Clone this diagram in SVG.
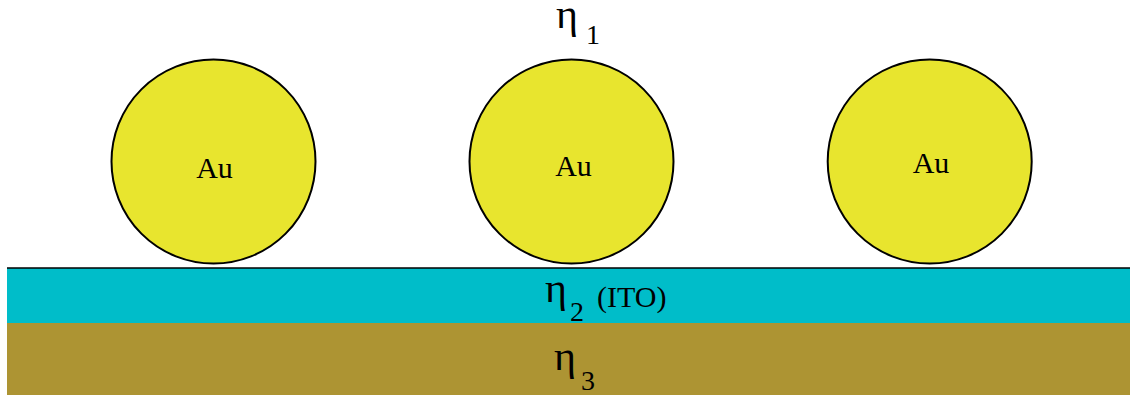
<svg xmlns="http://www.w3.org/2000/svg" width="1130" height="395" viewBox="0 0 1130 395">
<style>
.au{fill:#E8E52E;stroke:#000;stroke-width:2}
.t{font-family:"Liberation Serif",serif;fill:#000}
.eta{font-size:42px}
.sub{font-size:28px}
.ito{font-size:30px}
.lab{font-size:30px;text-anchor:middle}
</style>
<g id="layer-ito">
<rect x="7" y="268" width="1123" height="55" fill="#00BDC9"/>
<line x1="7" y1="268" x2="1130" y2="268" stroke="#000" stroke-width="1.5"/>
</g>
<g id="layer-substrate">
<rect x="7" y="323" width="1123" height="72" fill="#AD9433"/>
</g>
<g id="np1"><circle class="au" cx="213.5" cy="161.5" r="102"/><text class="t lab" x="214.5" y="178">Au</text></g>
<g id="np2"><circle class="au" cx="571.5" cy="161.5" r="102"/><text class="t lab" x="573.5" y="176">Au</text></g>
<g id="np3"><circle class="au" cx="929.7" cy="161.5" r="102"/><text class="t lab" x="931" y="173">Au</text></g>
<g id="eta1"><text class="t eta" x="556" y="28">η</text><text class="t sub" x="586" y="44">1</text></g>
<g id="eta2"><text class="t eta" x="545" y="302">η</text><text class="t sub" x="570" y="321">2</text><text class="t ito" x="597" y="307">(ITO)</text></g>
<g id="eta3"><text class="t eta" x="554" y="370">η</text><text class="t sub" x="581" y="390">3</text></g>
<g id="connectors"/>
</svg>
